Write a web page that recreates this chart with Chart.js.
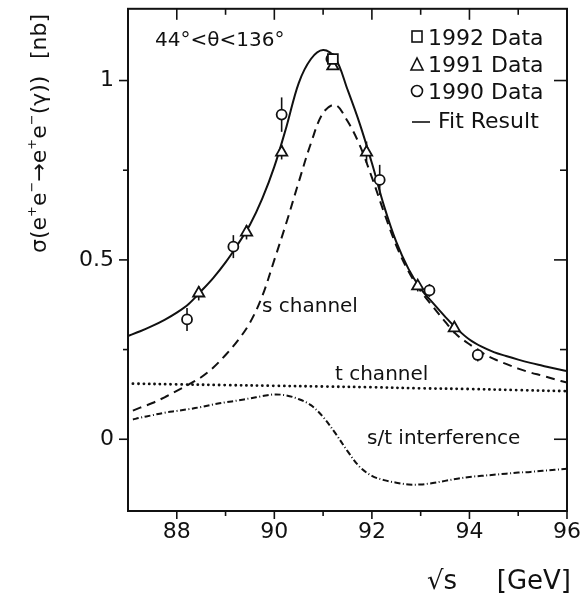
<!DOCTYPE html>
<html>
<head>
<meta charset="utf-8">
<script src="https://cdn.jsdelivr.net/npm/chart.js@4"></script>
<style>body{margin:0;background:#fff}</style>
</head>
<body>
<canvas id="c" width="587" height="600"></canvas>
<script>
// measured cross sections (nb) vs sqrt(s) (GeV)
const x1992 = [91.2];
const y1992 = [1.06];
const e1992 = [0.01];

const x1991 = [88.45, 89.43, 90.15, 91.2, 91.89, 92.94, 93.69];
const y1991 = [0.407, 0.577, 0.80, 1.04, 0.80, 0.427, 0.31];
const e1991 = [0.02, 0.02, 0.02, 0.01, 0.03, 0.015, 0.015];

const x1990 = [88.21, 89.16, 90.15, 91.17, 92.16, 93.18, 94.17];
const y1990 = [0.334, 0.537, 0.905, 1.06, 0.723, 0.415, 0.235];
const e1990 = [0.032, 0.032, 0.048, 0.015, 0.042, 0.018, 0.018];

// fit curves
const fitX = [87, 87.25, 87.5, 87.75, 88, 88.25, 88.5, 88.75, 89, 89.25, 89.5, 89.75, 90, 90.25, 90.5, 90.75, 91, 91.25, 91.5, 91.75, 92, 92.25, 92.5, 92.75, 93, 93.25, 93.5, 93.75, 94, 94.25, 94.5, 94.75, 95, 95.25, 95.5, 95.75, 96];
const fitY = [0.288, 0.301, 0.316, 0.333, 0.353, 0.378, 0.413, 0.45, 0.493, 0.543, 0.598, 0.67, 0.76, 0.872, 0.993, 1.06, 1.085, 1.063, 0.975, 0.88, 0.77, 0.65, 0.55, 0.475, 0.42, 0.38, 0.342, 0.307, 0.278, 0.258, 0.243, 0.232, 0.222, 0.213, 0.205, 0.197, 0.19];

const compX = [87.1, 87.25, 87.5, 87.75, 88, 88.25, 88.5, 88.75, 89, 89.25, 89.5, 89.75, 90, 90.25, 90.5, 90.75, 91, 91.25, 91.5, 91.75, 92, 92.25, 92.5, 92.75, 93, 93.25, 93.5, 93.75, 94, 94.25, 94.5, 94.75, 95, 95.25, 95.5, 95.75, 96];
const sChan = [0.08, 0.088, 0.101, 0.117, 0.135, 0.153, 0.173, 0.2, 0.235, 0.275, 0.325, 0.398, 0.5, 0.605, 0.717, 0.825, 0.91, 0.932, 0.887, 0.82, 0.73, 0.632, 0.54, 0.468, 0.413, 0.37, 0.328, 0.29, 0.265, 0.242, 0.224, 0.21, 0.197, 0.186, 0.177, 0.167, 0.158];
const stInt = [0.055, 0.06, 0.067, 0.074, 0.079, 0.084, 0.09, 0.097, 0.103, 0.108, 0.114, 0.12, 0.125, 0.122, 0.112, 0.095, 0.062, 0.017, -0.033, -0.077, -0.102, -0.114, -0.121, -0.126, -0.126, -0.122, -0.116, -0.11, -0.105, -0.102, -0.099, -0.096, -0.093, -0.091, -0.088, -0.085, -0.082];

const tX = [87.1, 88, 89, 90, 91, 92, 93, 94, 95, 96];
const tChan = [0.155, 0.153, 0.151, 0.149, 0.147, 0.145, 0.142, 0.14, 0.137, 0.134];

const xTicks = [88, 90, 92, 94, 96];
const xMinor = [89, 91, 93, 95];
const yTicks = [0, 0.5, 1];
const yMinor = [0.25, 0.75];

const ink = '#111';
const FONT = '"DejaVu Sans", sans-serif';

function pts(xs, ys) {
  return xs.map((x, i) => ({x: x, y: ys[i]}));
}

function markers(xs, ys, style, r) {
  return {
    data: pts(xs, ys), showLine: false, pointStyle: style, pointRadius: r,
    pointBorderWidth: 1.8, pointBorderColor: ink, pointBackgroundColor: '#fff'
  };
}

function curve(xs, ys, dash, width, cap) {
  return {
    data: pts(xs, ys), showLine: true, pointRadius: 0, borderColor: ink,
    borderWidth: width, borderDash: dash, borderCapStyle: cap || 'butt',
    tension: 0.35, fill: false
  };
}

// no extra room for tick labels, the frame is fixed by layout padding
function noPad(s) {
  s.paddingTop = 0; s.paddingBottom = 0; s.paddingLeft = 0; s.paddingRight = 0;
}

const errorBars = {
  id: 'errorBars',
  beforeDatasetsDraw(chart) {
    const {ctx, scales: {x, y}} = chart;
    ctx.save();
    ctx.strokeStyle = ink;
    ctx.lineWidth = 1.6;
    [[x1992, y1992, e1992], [x1991, y1991, e1991], [x1990, y1990, e1990]].forEach(([xs, ys, es]) => {
      xs.forEach((v, i) => {
        const px = x.getPixelForValue(v);
        ctx.beginPath();
        ctx.moveTo(px, y.getPixelForValue(ys[i] - es[i]));
        ctx.lineTo(px, y.getPixelForValue(ys[i] + es[i]));
        ctx.stroke();
      });
    });
    ctx.restore();
  }
};

const frame = {
  id: 'frame',
  afterDraw(chart) {
    const {ctx, chartArea: a, scales: {x, y}} = chart;
    ctx.save();
    ctx.strokeStyle = ink;
    ctx.fillStyle = ink;
    ctx.lineWidth = 2;
    ctx.strokeRect(a.left, a.top, a.right - a.left, a.bottom - a.top);

    ctx.lineWidth = 1.6;
    const line = (x1, y1, x2, y2) => { ctx.beginPath(); ctx.moveTo(x1, y1); ctx.lineTo(x2, y2); ctx.stroke(); };
    xTicks.concat(xMinor).forEach(v => {
      const major = xTicks.includes(v);
      const px = x.getPixelForValue(v);
      line(px, a.bottom, px, a.bottom + (major ? 8 : 5));
      if (v < 96) line(px, a.top, px, a.top + (major ? 11 : 6));
    });
    yTicks.concat(yMinor).forEach(v => {
      const major = yTicks.includes(v);
      const py = y.getPixelForValue(v);
      line(a.left - (major ? 9 : 5), py, a.left, py);
      line(a.right - (major ? 13 : 7), py, a.right, py);
    });

    // annotation + curve labels
    ctx.textBaseline = 'alphabetic';
    ctx.textAlign = 'left';
    ctx.font = '20px ' + FONT;
    ctx.fillText('44°<θ<136°', 155, 46);
    ctx.fillText('s channel', 262, 312);
    ctx.fillText('t channel', 335, 380);
    ctx.fillText('s/t interference', 367, 444);

    // legend
    ctx.font = '22px ' + FONT;
    const lx = 417;
    const rows = [37, 64, 91, 120];
    ctx.lineWidth = 1.6;
    ctx.strokeRect(lx - 5, rows[0] - 6, 10, 11);
    ctx.beginPath();
    ctx.moveTo(lx - 6, rows[1] + 6); ctx.lineTo(lx + 6, rows[1] + 6); ctx.lineTo(lx, rows[1] - 6); ctx.closePath();
    ctx.stroke();
    ctx.beginPath(); ctx.arc(lx, rows[2], 5.5, 0, Math.PI * 2); ctx.stroke();
    line(lx - 5, rows[3] + 2, lx + 13, rows[3] + 2);
    ctx.fillText('1992 Data', 428, rows[0] + 8);
    ctx.fillText('1991 Data', 428, rows[1] + 8);
    ctx.fillText('1990 Data', 428, rows[2] + 8);
    ctx.fillText('Fit Result', 438, rows[3] + 8);

    // x title
    ctx.font = '26px ' + FONT;
    ctx.fillText('√s', 427, 589);
    ctx.textAlign = 'right';
    ctx.fillText('[GeV]', 571, 589);

    // y title, rotated
    ctx.translate(46, 253);
    ctx.rotate(-Math.PI / 2);
    ctx.textAlign = 'left';
    const runs = [
      ['σ(e', 0], ['+', 1], ['e', 0], ['−', 1], ['→e', 0], ['+', 1], ['e', 0], ['−', 1], ['(γ))', 0]
    ];
    let cx = 0;
    runs.forEach(([t, sup]) => {
      ctx.font = (sup ? '13px ' : '22px ') + FONT;
      ctx.fillText(t, cx, sup ? -10 : 0);
      cx += ctx.measureText(t).width;
    });
    ctx.font = '22px ' + FONT;
    ctx.textAlign = 'right';
    ctx.fillText('[nb]', 239, 0);
    ctx.restore();
  }
};

new Chart(document.getElementById('c'), {
  type: 'scatter',
  data: {
    datasets: [
      markers(x1992, y1992, 'rect', 7),
      markers(x1991, y1991, 'triangle', 6.5),
      markers(x1990, y1990, 'circle', 5),
      curve(fitX, fitY, [], 2),
      curve(compX, sChan, [9, 6], 2),
      curve(tX, tChan, [0.1, 5.3], 2.8, 'round'),
      curve(compX, stInt, [6, 2.5, 1, 2.5], 2)
    ]
  },
  options: {
    responsive: false,
    animation: false,
    events: [],
    layout: {padding: {left: 0, top: 8, right: 20, bottom: 0}},
    plugins: {legend: {display: false}, tooltip: {enabled: false}},
    scales: {
      x: {
        type: 'linear', min: 87, max: 96,
        grid: {display: false, drawTicks: false},
        border: {display: false},
        afterBuildTicks: s => { s.ticks = xTicks.map(v => ({value: v})); },
        afterFit: s => { s.height = 89; noPad(s); },
        ticks: {color: ink, padding: 8, font: {family: FONT, size: 22}, callback: v => String(v)}
      },
      y: {
        type: 'linear', min: -0.2, max: 1.2,
        grid: {display: false, drawTicks: false},
        border: {display: false},
        afterBuildTicks: s => { s.ticks = yTicks.map(v => ({value: v})); },
        afterFit: s => { s.width = 128; noPad(s); },
        ticks: {color: ink, padding: 14, font: {family: FONT, size: 22}, callback: v => String(v)}
      }
    }
  },
  plugins: [errorBars, frame]
});
</script>
</body>
</html>
